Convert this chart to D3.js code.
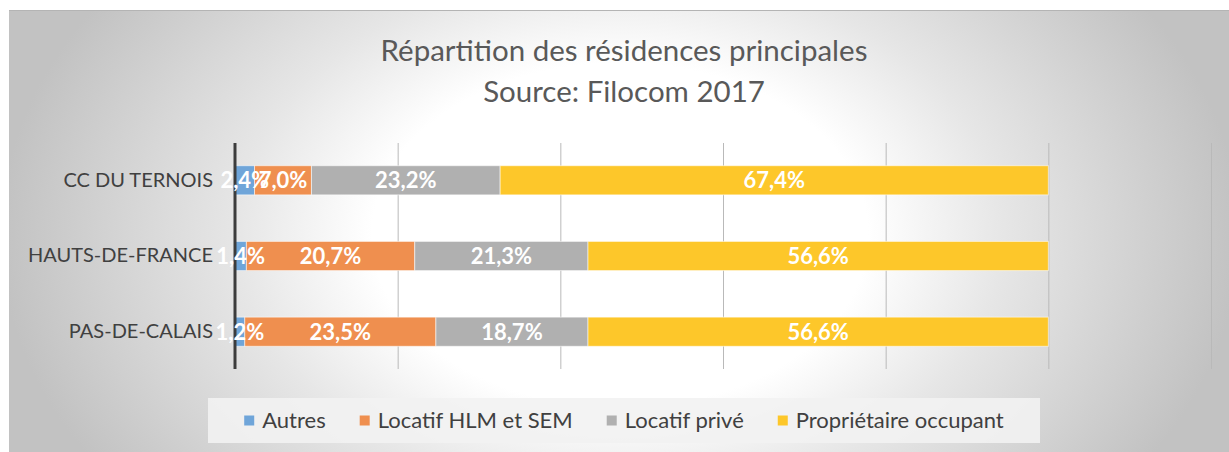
<!DOCTYPE html>
<html>
<head>
<meta charset="utf-8">
<script src="https://cdn.jsdelivr.net/npm/d3@7"></script>
<style>
  html, body { margin: 0; padding: 0; background: #ffffff; }
  svg { display: block; }
</style>
</head>
<body>
<svg id="chart" width="1229" height="452"></svg>
<script>
// Territories (top to bottom) and the share of each housing status, in %
const territories = ["CC DU TERNOIS", "HAUTS-DE-FRANCE", "PAS-DE-CALAIS"];
const seriesNames = ["Autres", "Locatif HLM et SEM", "Locatif privé", "Propriétaire occupant"];
const autres = [2.4, 1.4, 1.2];
const locatifHlm = [7.0, 20.7, 23.5];
const locatifPrive = [23.2, 21.3, 18.7];
const proprietaire = [67.4, 56.6, 56.6];
const seriesColors = ["#6fa5d9", "#ef8f4f", "#b0b0b0", "#fdc72a"];
const gridTicks = [0, 20, 40, 60, 80, 100, 120];
const titleLines = ["Répartition des résidences principales", "Source: Filocom 2017"];

const seriesValues = [autres, locatifHlm, locatifPrive, proprietaire];
const rows = territories.map((t, i) => {
  const r = { name: t };
  seriesNames.forEach((s, k) => { r[s] = seriesValues[k][i]; });
  return r;
});
const stacked = d3.stack().keys(seriesNames)(rows);

const svg = d3.select("#chart");
const W = 1229, H = 452;
const FONT = "Lato, 'Open Sans', sans-serif";

// Chart area background: soft radial shading, light centre, grey edges
const defs = svg.append("defs");
const grad = defs.append("radialGradient")
  .attr("id", "bg")
  .attr("gradientUnits", "userSpaceOnUse")
  .attr("cx", 0).attr("cy", 0).attr("r", 1)
  .attr("gradientTransform", "translate(620,235) scale(620,430)");
grad.append("stop").attr("offset", 0.4).attr("stop-color", "#ffffff");
grad.append("stop").attr("offset", 0.62).attr("stop-color", "#e6e6e6");
grad.append("stop").attr("offset", 1).attr("stop-color", "#c2c2c2");

svg.append("rect")
  .attr("x", 9).attr("y", 10).attr("width", W - 9).attr("height", H - 10)
  .attr("fill", "url(#bg)");
svg.append("line")
  .attr("x1", 9).attr("x2", W).attr("y1", 10.5).attr("y2", 10.5)
  .attr("stroke", "#b4b4b4").attr("stroke-width", 1);

// Title
const title = svg.append("text")
  .attr("text-anchor", "middle")
  .attr("fill", "#595959")
  .style("font-family", FONT)
  .style("font-weight", 400)
  .style("font-size", "29.5px");
titleLines.forEach((line, i) => {
  title.append("tspan").attr("x", 624).attr("y", 61 + i * 41).text(line);
});

// Scales
const plot = { left: 235, right: 1211, top: 143, bottom: 369 };
const x = d3.scaleLinear().domain([0, 120]).range([plot.left, plot.right]);
const y = d3.scaleBand().domain(territories).range([plot.top, plot.bottom]).paddingInner(0.615).paddingOuter(0.3);

// Vertical gridlines
svg.append("g")
  .attr("transform", `translate(0,${plot.bottom})`)
  .call(d3.axisBottom(x).tickValues(gridTicks).tickSize(plot.bottom - plot.top).tickFormat(""))
  .call(g => g.select(".domain").remove())
  .call(g => g.selectAll(".tick line")
    .attr("transform", `translate(0,${-(plot.bottom - plot.top)})`)
    .attr("stroke", "#b9b9b9").attr("stroke-width", 1));

// Stacked bars
const layers = svg.append("g").selectAll("g")
  .data(stacked)
  .join("g")
  .attr("fill", (d, i) => seriesColors[i]);

layers.selectAll("rect")
  .data(d => d)
  .join("rect")
  .attr("x", d => x(d[0]))
  .attr("y", d => y(d.data.name))
  .attr("width", d => x(d[1]) - x(d[0]))
  .attr("height", y.bandwidth())
  .attr("stroke", "#ffffff")
  .attr("stroke-opacity", 0.55)
  .attr("stroke-width", 1);

// Category axis (left), thick dark line
const yAxis = svg.append("g")
  .attr("transform", `translate(${plot.left},0)`)
  .call(d3.axisLeft(y).tickSize(0).tickPadding(22));
yAxis.select(".domain").remove();
yAxis.selectAll("text")
  .attr("fill", "#404040")
  .style("font-family", FONT)
  .style("font-size", "20px");
svg.append("line")
  .attr("x1", plot.left).attr("x2", plot.left)
  .attr("y1", plot.top).attr("y2", plot.bottom)
  .attr("stroke", "#3c3c3c").attr("stroke-width", 3);

// Value labels, centred in each segment, drawn above every bar
const fmt = v => v.toFixed(1).replace(".", ",") + "%";
const labels = svg.append("g");
stacked.forEach(layer => {
  labels.append("g").selectAll("text")
    .data(layer)
    .join("text")
    .attr("x", d => (x(d[0]) + x(d[1])) / 2)
    .attr("y", d => y(d.data.name) + y.bandwidth() / 2)
    .attr("dy", "0.36em")
    .attr("text-anchor", "middle")
    .attr("fill", "#ffffff")
    .style("font-family", FONT)
    .style("font-weight", 700)
    .style("font-size", "22px")
    .text(d => fmt(d[1] - d[0]));
});

// Legend
const legendBox = { x: 208, y: 398, w: 832, h: 45 };
svg.append("rect")
  .attr("x", legendBox.x).attr("y", legendBox.y)
  .attr("width", legendBox.w).attr("height", legendBox.h)
  .attr("fill", "#f2f2f2").attr("fill-opacity", 0.9);

const legend = svg.append("g");
const items = legend.selectAll("g").data(seriesNames).join("g");
items.append("rect")
  .attr("width", 10).attr("height", 10)
  .attr("y", -5)
  .attr("fill", (d, i) => seriesColors[i]);
items.append("text")
  .attr("x", 18)
  .attr("dy", "0.35em")
  .attr("fill", "#404040")
  .style("font-family", FONT)
  .style("font-size", "22px")
  .text(d => d);

const gap = 34;
const widths = [];
items.each(function() { widths.push(this.getBBox().width); });
const total = d3.sum(widths) + gap * (widths.length - 1);
let cx = legendBox.x + (legendBox.w - total) / 2;
items.each(function(d, i) {
  d3.select(this).attr("transform", `translate(${cx},${legendBox.y + legendBox.h / 2})`);
  cx += widths[i] + gap;
});
</script>
</body>
</html>
